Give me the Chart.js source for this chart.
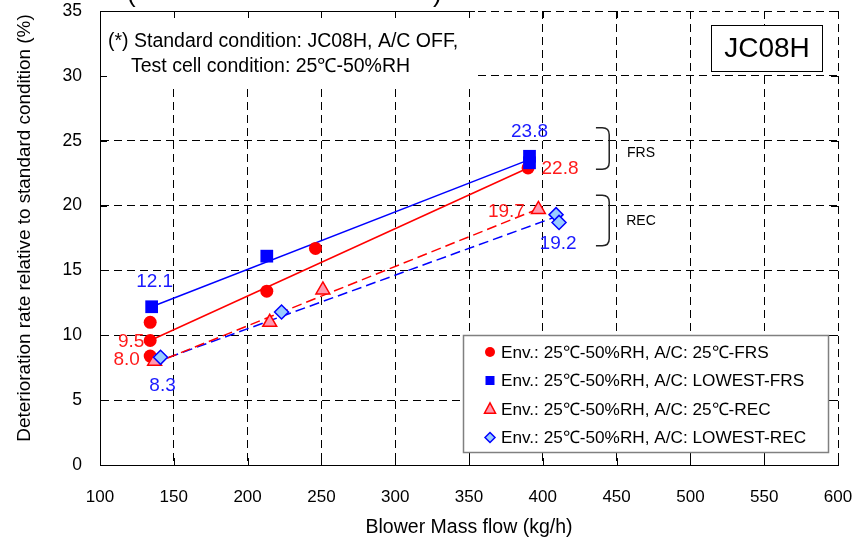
<!DOCTYPE html>
<html>
<head>
<meta charset="utf-8">
<script src="https://cdn.jsdelivr.net/npm/chart.js@4.4.1/dist/chart.umd.min.js"></script>
<style>
  html, body { margin: 0; padding: 0; background: #fff; }
  #wrap { width: 852px; height: 543px; }
</style>
</head>
<body>
<div id="wrap"><canvas id="chart" width="852" height="543"></canvas></div>
<script>
const FONT = '"Liberation Sans", Arial, Helvetica, sans-serif';

// axis ticks
const xTickValues = [100, 150, 200, 250, 300, 350, 400, 450, 500, 550, 600];
const yTickValues = [0, 5, 10, 15, 20, 25, 30, 35];

// measured points (blower mass flow kg/h, deterioration %)
const frs25X = [134, 134, 134, 213, 246, 390];
const frs25Y = [11.0, 9.6, 8.4, 13.4, 16.7, 22.9];
const frsLowX = [135, 213, 391, 391];
const frsLowY = [12.2, 16.1, 23.8, 23.3];
const rec25X = [137, 215, 251, 397];
const rec25Y = [8.0, 11.0, 13.5, 19.7];
const recLowX = [141, 223, 409, 411];
const recLowY = [8.3, 11.8, 19.3, 18.7];

// trend line end points [x, y]
const frs25Trend = [[134, 9.6], [390, 22.9]];
const frsLowTrend = [[135, 12.2], [390, 23.5]];
const rec25Trend = [[136, 7.8], [396, 19.7]];
const recLowTrend = [[137, 7.9], [408, 19.1]];

const seriesNames = [
  'Env.: 25\u2103-50%RH, A/C: 25\u2103-FRS',
  'Env.: 25\u2103-50%RH, A/C: LOWEST-FRS',
  'Env.: 25\u2103-50%RH, A/C: 25\u2103-REC',
  'Env.: 25\u2103-50%RH, A/C: LOWEST-REC'
];

// value labels next to points: text, series index, point index
const valueLabels = ['12.1', '9.5', '8.0', '8.3', '23.8', '22.8', '19.7', '19.2'];
const labelSeries = [1, 0, 2, 3, 1, 0, 2, 3];
const labelPoint = [0, 1, 0, 0, 2, 5, 3, 2];

const noteLines = ['(*) Standard condition: JC08H, A/C OFF,', 'Test cell condition: 25\u2103-50%RH'];
const cycleName = 'JC08H';
const groupNames = ['FRS', 'REC'];

const RED = '#ff0000';
const BLUE = '#0000ff';
const labelOffsets = [[3, -25], [-19, 1], [-28, -1], [2, 28], [0, -25], [32, 1], [-32, 2], [2, 29]];

const toPts = (xs, ys) => xs.map((v, i) => ({x: v, y: ys[i]}));
const toLine = arr => arr.map(p => ({x: p[0], y: p[1]}));

// later series sit on top, as in the original sheet
const pointSets = [
  {label: seriesNames[0], data: toPts(frs25X, frs25Y), pointStyle: 'circle', pointRadius: 6.5,
   backgroundColor: RED, borderColor: RED, pointBorderWidth: 0, order: 4},
  {label: seriesNames[1], data: toPts(frsLowX, frsLowY), pointStyle: 'rect', pointRadius: 9,
   backgroundColor: BLUE, borderColor: BLUE, pointBorderWidth: 0, order: 3},
  {label: seriesNames[2], data: toPts(rec25X, rec25Y), pointStyle: 'triangle', pointRadius: 8,
   backgroundColor: '#ff99b0', borderColor: RED, pointBorderWidth: 1.5, order: 2},
  {label: seriesNames[3], data: toPts(recLowX, recLowY), pointStyle: 'rectRot', pointRadius: 7,
   backgroundColor: '#99ccff', borderColor: BLUE, pointBorderWidth: 1.5, order: 1}
];
pointSets.forEach(d => { d.showLine = false; });

const lineSets = [
  {data: toLine(frs25Trend), borderColor: RED, borderDash: []},
  {data: toLine(frsLowTrend), borderColor: BLUE, borderDash: []},
  {data: toLine(rec25Trend), borderColor: RED, borderDash: [10, 5]},
  {data: toLine(recLowTrend), borderColor: BLUE, borderDash: [10, 5]}
];
lineSets.forEach(d => {
  d.label = ''; d.showLine = true; d.pointRadius = 0; d.borderWidth = 1.5; d.order = 5;
});

function drawMarker(ctx, style, x, y, r, fill, stroke, bw) {
  ctx.beginPath();
  if (style === 'circle') {
    ctx.arc(x, y, r, 0, Math.PI * 2);
  } else if (style === 'rect') {
    ctx.rect(x - r, y - r, 2 * r, 2 * r);
  } else if (style === 'triangle') {
    ctx.moveTo(x, y - r * 1.1);
    ctx.lineTo(x + r, y + r * 0.75);
    ctx.lineTo(x - r, y + r * 0.75);
    ctx.closePath();
  } else {
    ctx.moveTo(x, y - r);
    ctx.lineTo(x + r, y);
    ctx.lineTo(x, y + r);
    ctx.lineTo(x - r, y);
    ctx.closePath();
  }
  ctx.fillStyle = fill;
  ctx.fill();
  if (bw) { ctx.lineWidth = bw; ctx.strokeStyle = stroke; ctx.stroke(); }
}

function drawBracket(ctx, x0, x1, yTop, yBot) {
  ctx.beginPath();
  ctx.moveTo(x0, yTop);
  ctx.lineTo(x1 - 7, yTop);
  ctx.quadraticCurveTo(x1, yTop, x1, yTop + 7);
  ctx.lineTo(x1, yBot - 7);
  ctx.quadraticCurveTo(x1, yBot, x1 - 7, yBot);
  ctx.lineTo(x0, yBot);
  ctx.stroke();
}

const overlay = {
  id: 'overlay',
  afterDraw(chart) {
    const {ctx, chartArea: a} = chart;
    const sx = chart.scales.x, sy = chart.scales.y;
    ctx.save();

    // cut-off heading above the frame
    ctx.fillStyle = '#000';
    ctx.font = '26px ' + FONT;
    ctx.textBaseline = 'alphabetic';
    ctx.textAlign = 'left';
    ctx.fillText('(', 127, 2);
    ctx.fillText(')', 433, 2);

    // note box (top left) and legend box hide the grid
    ctx.fillStyle = '#fff';
    ctx.fillRect(a.left + 1, a.top + 1, 374, 72);
    ctx.strokeStyle = '#000';
    ctx.lineWidth = 1;
    ctx.beginPath();
    ctx.moveTo(a.left, a.top + 0.5);
    ctx.lineTo(a.left + 375, a.top + 0.5);
    ctx.stroke();

    const lg = {x: 463, y: 335, w: 365, h: 117};
    ctx.fillStyle = '#fff';
    ctx.fillRect(lg.x, lg.y, lg.w, lg.h);

    // inward ticks on all sides
    ctx.strokeStyle = '#000';
    ctx.lineWidth = 1;
    ctx.beginPath();
    xTickValues.forEach(v => {
      const px = Math.round(sx.getPixelForValue(v)) + 0.5;
      ctx.moveTo(px, a.top); ctx.lineTo(px, a.top + 7);
      ctx.moveTo(px, a.bottom); ctx.lineTo(px, a.bottom - 7);
    });
    yTickValues.forEach(v => {
      const py = Math.round(sy.getPixelForValue(v)) + 0.5;
      ctx.moveTo(a.left, py); ctx.lineTo(a.left + 7, py);
      ctx.moveTo(a.right, py); ctx.lineTo(a.right - 7, py);
    });
    ctx.stroke();

    // legend
    ctx.strokeStyle = '#808080';
    ctx.lineWidth = 1.5;
    ctx.strokeRect(lg.x + 0.5, lg.y + 0.5, lg.w, lg.h);
    ctx.font = '17.2px ' + FONT;
    ctx.textBaseline = 'middle';
    ctx.textAlign = 'left';
    const rowY = [352, 380.5, 409, 437.5];
    const legR = [5, 4.5, 5.5, 5];
    pointSets.forEach((d, i) => {
      drawMarker(ctx, d.pointStyle, 490, rowY[i], legR[i], d.backgroundColor, d.borderColor, d.pointBorderWidth);
      ctx.fillStyle = '#000';
      ctx.fillText(d.label, 501, rowY[i] + 1);
    });

    // note text
    ctx.fillStyle = '#000';
    ctx.font = '19.5px ' + FONT;
    ctx.textBaseline = 'alphabetic';
    ctx.fillText(noteLines[0], 108, 47);
    ctx.fillText(noteLines[1], 131, 72);

    // cycle name box
    ctx.fillStyle = '#fff';
    ctx.fillRect(711, 25, 112, 47);
    ctx.strokeStyle = '#000';
    ctx.lineWidth = 1;
    ctx.strokeRect(711.5, 25.5, 111, 46);
    ctx.fillStyle = '#000';
    ctx.font = '28px ' + FONT;
    ctx.textAlign = 'center';
    ctx.textBaseline = 'middle';
    ctx.fillText(cycleName, 767, 49);

    // FRS / REC brackets
    ctx.strokeStyle = '#222';
    ctx.lineWidth = 1.5;
    const bx0 = sx.getPixelForValue(436), bx1 = sx.getPixelForValue(445);
    drawBracket(ctx, bx0, bx1, sy.getPixelForValue(26.0), sy.getPixelForValue(22.8));
    drawBracket(ctx, bx0, bx1, sy.getPixelForValue(20.8), sy.getPixelForValue(16.9));
    ctx.fillStyle = '#000';
    ctx.font = '14px ' + FONT;
    ctx.textAlign = 'center';
    ctx.fillText(groupNames[0], 641, 153);
    ctx.fillText(groupNames[1], 641, 221);

    // value labels
    ctx.font = '19px ' + FONT;
    valueLabels.forEach((t, i) => {
      const meta = chart.getDatasetMeta(labelSeries[i]);
      const el = meta.data[labelPoint[i]];
      ctx.fillStyle = labelSeries[i] % 2 === 0 ? '#ff1a1a' : '#1a1aff';
      ctx.fillText(t, el.x + labelOffsets[i][0], el.y + labelOffsets[i][1]);
    });

    // y axis title
    ctx.save();
    ctx.translate(25, 228);
    ctx.rotate(-Math.PI / 2);
    ctx.fillStyle = '#000';
    ctx.font = '18.9px ' + FONT;
    ctx.fillText('Deterioration rate relative to standard condition (%)', 0, 0);
    ctx.restore();

    ctx.restore();
  }
};

new Chart(document.getElementById('chart'), {
  type: 'scatter',
  data: {datasets: [...pointSets, ...lineSets]},
  options: {
    responsive: false,
    animation: false,
    layout: {padding: {top: 11, right: 14, left: 0, bottom: 0}},
    plugins: {legend: {display: false}, tooltip: {enabled: false}},
    scales: {
      x: {
        type: 'linear', min: 100, max: 600,
        afterBuildTicks: s => { s.ticks = xTickValues.map(v => ({value: v})); },
        afterFit: s => { s.height = 78; s.paddingLeft = 0; s.paddingRight = 0; },
        grid: {color: '#000', lineWidth: 1, drawTicks: false},
        border: {display: true, color: '#000', width: 1, dash: [8, 5]},
        ticks: {color: '#000', padding: 22, font: {family: FONT, size: 17}},
        title: {display: true, text: 'Blower Mass flow (kg/h)', color: '#000',
                font: {family: FONT, size: 19.5}, padding: {top: 0, bottom: 4}}
      },
      y: {
        type: 'linear', min: 0, max: 35,
        afterBuildTicks: s => { s.ticks = yTickValues.map(v => ({value: v})); },
        afterFit: s => { s.width = 100; s.paddingTop = 0; s.paddingBottom = 0; },
        grid: {color: '#000', lineWidth: 1, drawTicks: false},
        border: {display: true, color: '#000', width: 1, dash: [8, 5]},
        ticks: {color: '#000', padding: 18, font: {family: FONT, size: 17.5}}
      }
    }
  },
  plugins: [overlay]
});
</script>
</body>
</html>
